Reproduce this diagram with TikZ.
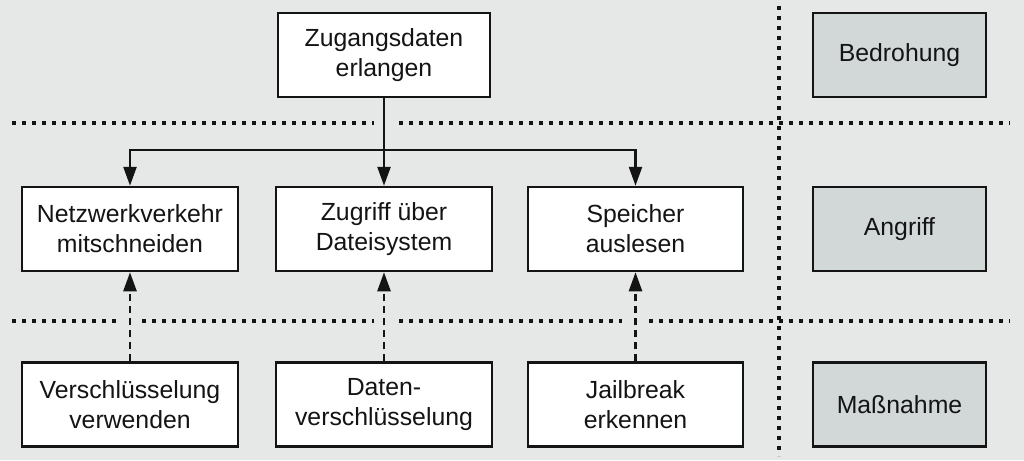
\documentclass[tikz,border=0pt]{standalone}
\usepackage{fontspec}
\setmainfont{Liberation Sans}
\usetikzlibrary{arrows.meta}
\definecolor{bg}{HTML}{E6E8E8}
\definecolor{lab}{HTML}{D2D8D8}
\definecolor{ink}{HTML}{141414}
\begin{document}
\begin{tikzpicture}[x=1pt,y=-1pt,
  box/.style={draw=ink, line width=2.5pt, fill=white, minimum width=216pt, minimum height=84pt,
    inner sep=0pt, align=center, text=ink, font=\fontsize{24.8}{30}\selectfont},
  labelbox/.style={box, fill=lab, minimum width=173pt},
  sep/.style={draw=ink, line width=4pt, dash pattern=on 4pt off 6pt},
  conn/.style={draw=ink, line width=2.5pt, -{Triangle[length=19pt,width=13pt]}},
  meas/.style={conn, dash pattern=on 7pt off 5pt}]
  \useasboundingbox (0,0) rectangle (1024,460);
  \fill[bg] (0,0) rectangle (1024,460);

  % separators
  \draw[sep] (779,6) -- (779,456);
  \draw[sep] (12,123) -- (374,123);
  \draw[sep] (399,123) -- (1010,123);
  \draw[sep] (12,321) -- (116,321);
  \draw[sep] (142,321) -- (374,321);
  \draw[sep] (399,321) -- (622,321);
  \draw[sep] (649,321) -- (1010,321);

  % nodes
  \node[box, minimum width=212pt] (top) at (384,55) {Zugangsdaten\\erlangen};
  \node[labelbox] (bed) at (899.5,55) {Bedrohung};

  \node[box] (n1) at (130,229) {Netzwerkverkehr\\mitschneiden};
  \node[box] (n2) at (384,229) {Zugriff über\\Dateisystem};
  \node[box, minimum width=215pt] (n3) at (635.5,229) {Speicher\\auslesen};
  \node[labelbox] (ang) at (899.5,229) {Angriff};

  \node[box] (b1) at (130,404.5) {Verschlüsselung\\verwenden};
  \node[box] (b2) at (384,404.5) {Daten-\\verschlüsselung};
  \node[box, minimum width=215pt] (b3) at (635.5,404.5) {Jailbreak\\erkennen};
  \node[labelbox] (mas) at (899.5,404.5) {Maßnahme};

  % connectors
  \coordinate (br) at (384,150);
  \draw[conn] (top.south) -- (n2.north);
  \draw[conn] (br) -| (n1.north);
  \draw[conn] (br) -| (n3.north);

  \draw[meas] (b1.north) -- (n1.south);
  \draw[meas] (b2.north) -- (n2.south);
  \draw[meas] (b3.north) -- (n3.south);
\end{tikzpicture}
\end{document}
